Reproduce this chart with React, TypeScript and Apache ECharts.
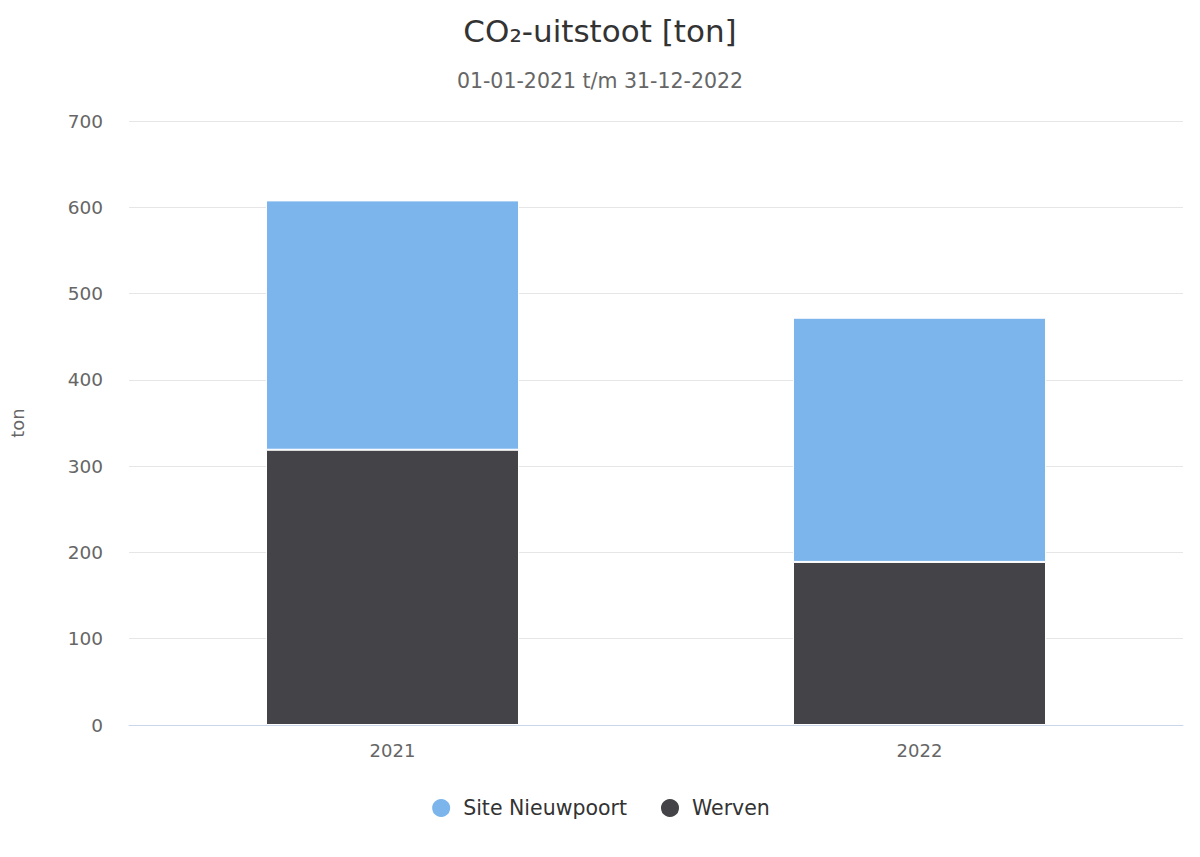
import { useEffect, useRef } from "react";
import * as echarts from "echarts";

const years = ["2021", "2022"];
const siteNieuwpoort = [289, 283];
const werven = [319, 189];
const yTicks = { min: 0, max: 700, interval: 100 };

const FONT = "'DejaVu Sans', sans-serif";

export default function App() {
  const chartRef = useRef<HTMLDivElement>(null);

  useEffect(() => {
    document.body.style.margin = "0";
    if (!chartRef.current) return;
    const chart = echarts.init(chartRef.current, null, { renderer: "svg" });

    const option: echarts.EChartsOption = {
      animation: false,
      backgroundColor: "#ffffff",
      textStyle: { fontFamily: FONT },
      title: {
        text: "CO₂-uitstoot [ton]",
        subtext: "01-01-2021 t/m 31-12-2022",
        left: "center",
        top: 10,
        itemGap: 24,
        textStyle: { fontSize: 31, fontWeight: "normal", color: "#333333", fontFamily: FONT },
        subtextStyle: { fontSize: 20.5, color: "#666666", fontFamily: FONT },
      },
      legend: {
        data: ["Site Nieuwpoort", "Werven"],
        bottom: 33,
        left: "center",
        icon: "circle",
        itemWidth: 20,
        itemHeight: 20,
        itemGap: 32,
        textStyle: { fontSize: 20.5, color: "#333333", fontFamily: FONT, padding: [0, 0, 0, 7] },
      },
      grid: { left: 125, right: 17, top: 121, bottom: 132 },
      xAxis: {
        type: "category",
        data: years,
        axisLine: { lineStyle: { color: "#ccd6eb" } },
        axisTick: { show: false },
        axisLabel: { fontSize: 18, color: "#666666", margin: 16, fontFamily: FONT },
      },
      yAxis: {
        type: "value",
        min: yTicks.min,
        max: yTicks.max,
        interval: yTicks.interval,
        name: "ton",
        nameLocation: "middle",
        nameRotate: 90,
        nameGap: 103,
        nameTextStyle: { fontSize: 18, color: "#666666", fontFamily: FONT },
        axisLine: { show: false },
        axisTick: { show: false },
        axisLabel: { fontSize: 18.5, color: "#666666", margin: 26, fontFamily: FONT },
        splitLine: { lineStyle: { color: "#e6e6e6" } },
      },
      series: [
        {
          name: "Werven",
          type: "bar",
          stack: "total",
          data: werven,
          barWidth: 253,
          itemStyle: { color: "#434348", borderColor: "#ffffff", borderWidth: 1 },
        },
        {
          name: "Site Nieuwpoort",
          type: "bar",
          stack: "total",
          data: siteNieuwpoort,
          barWidth: 253,
          itemStyle: { color: "#7cb5ec", borderColor: "#ffffff", borderWidth: 1 },
        },
      ],
    };

    chart.setOption(option);
    return () => chart.dispose();
  }, []);

  return <div ref={chartRef} style={{ width: 1200, height: 857 }} />;
}
